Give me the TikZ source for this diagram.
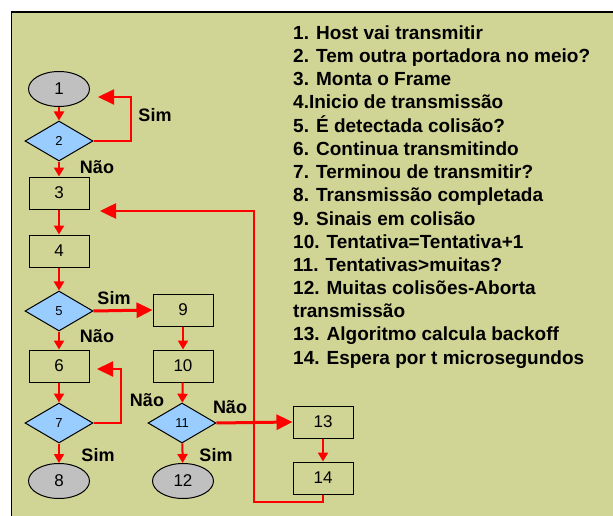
\documentclass[tikz,border=0pt]{standalone}
\usepackage{fontspec}
\setmainfont{Liberation Sans}
\usetikzlibrary{shapes.geometric,arrows.meta}
\definecolor{bgolive}{RGB}{208,212,148}
\definecolor{dblue}{RGB}{153,204,255}
\definecolor{egray}{RGB}{192,192,192}
\tikzset{
  boxnode/.style={draw=black,line width=1pt,minimum width=60pt,minimum height=32pt,inner sep=0pt,font=\fontsize{17}{18}\selectfont},
  dianode/.style={draw=black,line width=1pt,diamond,fill=dblue,minimum width=68pt,minimum height=40pt,inner sep=0pt,aspect=1.7,font=\fontsize{13}{15}\selectfont},
  ellnode/.style={draw=black,line width=1pt,ellipse,fill=egray,minimum width=61pt,minimum height=35pt,inner sep=0pt,font=\fontsize{17}{18}\selectfont},
  flow/.style={draw=red,line width=2pt,-{Triangle[length=9pt,width=10pt]}},
  bigflow/.style={draw=red,line width=3pt,-{Triangle[length=16pt,width=15pt]}},
  loopflow/.style={draw=red,line width=2pt,-{Triangle[length=16pt,width=15pt]}},
  lbl/.style={font=\fontsize{18}{20}\selectfont\bfseries,inner sep=0pt,anchor=base},
  itm/.style={font=\fontsize{19}{20}\selectfont\bfseries,anchor=base west,inner sep=0pt},
}
\begin{document}
\begin{tikzpicture}[x=1pt,y=-1pt]
\useasboundingbox (0,0) rectangle (613,516);
\begin{scope}
\clip (0,0) rectangle (613,516);
\draw[fill=bgolive,line width=1.2pt] (11.5,12) rectangle (630,530);
\end{scope}
% nodes
\node[ellnode] (n1) at (59,89) {1};
\node[dianode] (n2) at (59,141) {2};
\node[boxnode] (n3) at (59,193) {3};
\node[boxnode] (n4) at (59,251) {4};
\node[dianode] (n5) at (59,311) {5};
\node[boxnode] (n6) at (59,366) {6};
\node[dianode] (n7) at (59,423) {7};
\node[ellnode] (n8) at (59,481) {8};
\node[boxnode] (n9) at (183,310) {9};
\node[boxnode] (n10) at (183,366) {10};
\node[dianode] (n11) at (182,423) {11};
\node[ellnode] (n12) at (183,481) {12};
\node[boxnode] (n13) at (323,422) {13};
\node[boxnode] (n14) at (323,478) {14};
% coordinates
\coordinate (c2a) at (131,141);
\coordinate (c2b) at (131,97);
\coordinate (c2t) at (98,97);
\coordinate (c7a) at (121,423);
\coordinate (c7b) at (121,369);
\coordinate (c7t) at (97,369);
\coordinate (c14a) at (323,502);
\coordinate (c14b) at (254,502);
\coordinate (c14c) at (254,211);
\coordinate (c3t) at (100,211);
% connectors
\draw[flow] (n1) -- (n2);
\draw[flow] (n2) -- (n3);
\draw[flow] (n3) -- (n4);
\draw[flow] (n4) -- (n5);
\draw[flow] (n5) -- (n6);
\draw[flow] (n6) -- (n7);
\draw[flow] (n7) -- (n8);
\draw[flow] (n9) -- (n10);
\draw[flow] (n10) -- (n11);
\draw[flow] (n11) -- (n12);
\draw[flow] (n13) -- (n14);
\draw[bigflow] (n5.east) -- (n9.west);
\draw[bigflow] (n11.east) -- (n13.west);
\draw[loopflow] (n2.east) -- (c2a) -- (c2b) -- (c2t);
\draw[loopflow] (n7.east) -- (c7a) -- (c7b) -- (c7t);
\draw[loopflow,line width=2.5pt] (n14.south) -- (c14a) -- (c14b) -- (c14c) -- (c3t);
% labels
\node[lbl] (l1) at (155,122) {Sim};
\node[lbl] (l2) at (97,173.5) {Não};
\node[lbl] (l3) at (114,304.5) {Sim};
\node[lbl] (l4) at (97,342.5) {Não};
\node[lbl] (l5) at (147,406.5) {Não};
\node[lbl] (l6) at (230,413.5) {Não};
\node[lbl] (l7) at (98,461.5) {Sim};
\node[lbl] (l8) at (216,461.5) {Sim};
% list
\node[itm] (t1) at (293,40) {1. Host vai transmitir};
\node[itm] (t2) at (293,63) {2. Tem outra portadora no meio?};
\node[itm] (t3) at (293,86) {3. Monta o Frame};
\node[itm] (t4) at (293,109) {4.Inicio de transmissão};
\node[itm] (t5) at (293,132.5) {5. É detectada colisão?};
\node[itm] (t6) at (293,155.5) {6. Continua transmitindo};
\node[itm] (t7) at (293,178.5) {7. Terminou de transmitir?};
\node[itm] (t8) at (293,201.5) {8. Transmissão completada};
\node[itm] (t9) at (293,225) {9. Sinais em colisão};
\node[itm] (t10) at (293,248) {10. Tentativa=Tentativa+1};
\node[itm] (t11) at (293,271) {11. Tentativas>muitas?};
\node[itm] (t12) at (293,294) {12. Muitas colisões-Aborta};
\node[itm] (t12b) at (293,317.5) {transmissão};
\node[itm] (t13) at (293,340.5) {13. Algoritmo calcula backoff};
\node[itm] (t14) at (293,364) {14. Espera por t microsegundos};
\end{tikzpicture}
\end{document}
